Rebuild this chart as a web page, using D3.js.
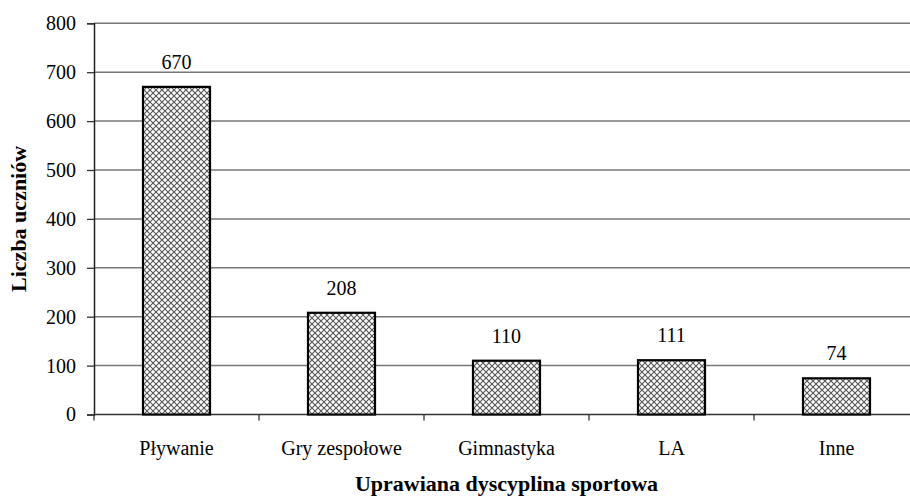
<!DOCTYPE html>
<html><head><meta charset="utf-8">
<script src="https://cdn.jsdelivr.net/npm/d3@7"></script>
<style>body{margin:0;background:#fff}svg{display:block}
svg text{font-family:"Liberation Serif","Times New Roman",Times,"DejaVu Serif",serif !important;}
</style>
</head><body>
<svg id="c" width="910" height="497"></svg>
<script>
const categories = ["Pływanie","Gry zespołowe","Gimnastyka","LA","Inne"];
const values = [670,208,110,111,74];
const yTicks = [0,100,200,300,400,500,600,700,800];
const xTitle = "Uprawiana dyscyplina sportowa";
const yTitle = "Liczba uczniów";

(function(){
const svg = d3.select("#c");
const mLeft = 94, mRight = 919, mTop = 23.3, mBottom = 414.5;
const fs = 20;

const defs = svg.append("defs");
const pat = defs.append("pattern").attr("id","hatch").attr("patternUnits","userSpaceOnUse")
  .attr("width",6).attr("height",6);
pat.append("rect").attr("width",6).attr("height",6).attr("fill","#fff");
pat.append("path").attr("d","M0,0L6,6M6,0L0,6").attr("stroke","#555").attr("stroke-width",1.1);

const x = d3.scaleBand().domain(categories).range([mLeft,mRight]);
const y = d3.scaleLinear().domain([0,800]).range([mBottom,mTop]);

// gridlines
svg.append("g").selectAll("line").data(yTicks.filter(d=>d>0)).join("line")
  .attr("x1",mLeft).attr("x2",910).attr("y1",d=>y(d)).attr("y2",d=>y(d))
  .attr("stroke","#777").attr("stroke-width",1.5);

// y axis
const ya = svg.append("g").attr("transform",`translate(${mLeft},0)`)
  .call(d3.axisLeft(y).tickValues(yTicks).tickSize(7).tickPadding(11));
ya.select(".domain").attr("stroke","#222").attr("stroke-width",1.5);
ya.selectAll(".tick line").attr("stroke","#333").attr("stroke-width",1.3);
ya.selectAll("text").attr("font-size",fs).attr("fill","#000");

// x axis
const xa = svg.append("g").attr("transform",`translate(0,${mBottom})`)
  .call(d3.axisBottom(x).tickSize(0).tickPadding(26));
xa.select(".domain").remove();
xa.selectAll("text").attr("font-size",fs).attr("fill","#000");
svg.append("line").attr("x1",mLeft).attr("x2",910).attr("y1",mBottom).attr("y2",mBottom)
  .attr("stroke","#333").attr("stroke-width",1.5);
const bounds = categories.map(c=>x(c)).concat([mRight]);
svg.append("g").selectAll("line").data(bounds).join("line")
  .attr("x1",d=>d).attr("x2",d=>d).attr("y1",mBottom).attr("y2",mBottom+6)
  .attr("stroke","#333").attr("stroke-width",1.3);

// bars
const bw = 67;
svg.append("g").selectAll("rect").data(values).join("rect")
  .attr("x",(d,i)=>x(categories[i])+x.bandwidth()/2-bw/2)
  .attr("y",d=>y(d)).attr("width",bw).attr("height",d=>mBottom-y(d))
  .attr("fill","url(#hatch)").attr("stroke","#000").attr("stroke-width",2.2);

// value labels
svg.append("g").selectAll("text").data(values).join("text")
  .attr("x",(d,i)=>x(categories[i])+x.bandwidth()/2)
  .attr("y",d=>y(d)-18).attr("text-anchor","middle")
  .attr("font-size",fs).text(d=>d);

// titles
svg.append("text").attr("x",(mLeft+mRight)/2).attr("y",491).attr("text-anchor","middle")
  .attr("font-size",22).attr("font-weight","bold").text(xTitle);
svg.append("text").attr("transform",`translate(26,${(mTop+mBottom)/2}) rotate(-90)`)
  .attr("text-anchor","middle").attr("font-size",22)
  .attr("font-weight","bold").text(yTitle);
})();
</script>
</body></html>
